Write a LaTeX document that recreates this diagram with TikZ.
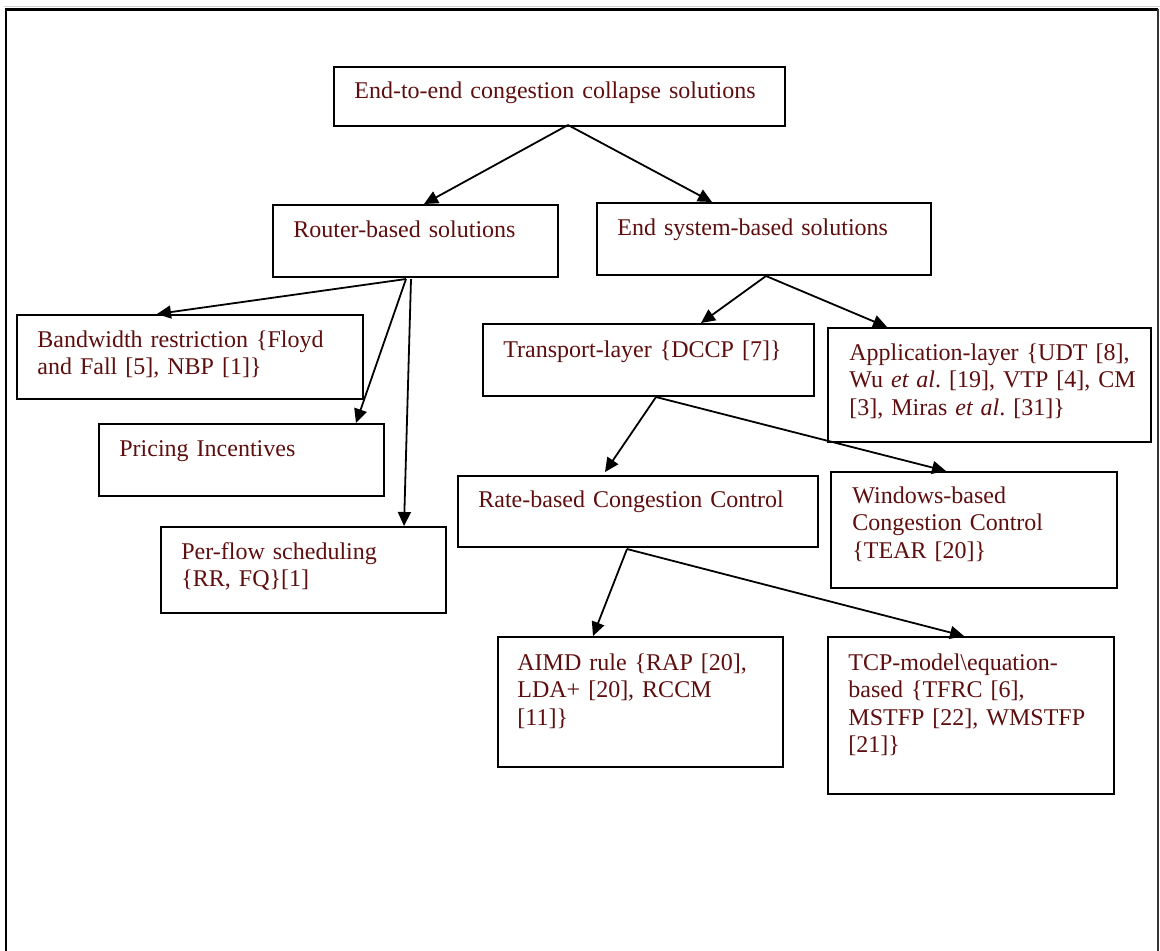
\documentclass[tikz,border=0pt]{standalone}
\usepackage{fontspec}
\setmainfont{Liberation Serif}
\usetikzlibrary{arrows.meta,calc}
\definecolor{ink}{RGB}{94,14,14}
\frenchspacing
\begin{document}
\begin{tikzpicture}[x=0.5pt,y=-0.5pt,
  box/.style={draw=black,line width=1pt,inner sep=0pt,anchor=north west},
  txt/.style={text=ink,inner sep=0pt,anchor=base west,align=left,text width=300pt,
    font=\fontsize{12}{13.8}\selectfont},
  link/.style={draw=black,line width=0.9pt,-{Triangle[length=7pt,width=6.5pt]}}]
\useasboundingbox (0,0) rectangle (1160,950);

% outer frame, open at the bottom
\draw[gray!35,line width=0.8pt] (4,6.5) -- (1160,6.5);
\draw[line width=1.1pt] (6,960) -- (6,9.5) -- (1158,9.5);
\draw[black!80,line width=0.6pt] (1158,9) -- (1158,960);

% boxes (corner, size in px units)
\newcommand{\cbox}[5]{\node[box,minimum width=#4*0.5pt,minimum height=#5*0.5pt] (#1) at (#2,#3) {};}
\cbox{top}{333}{66}{451}{59}
\cbox{router}{272}{204}{285}{72}
\cbox{endsys}{596}{202}{334}{72}
\cbox{band}{16}{314}{346}{84}
\cbox{pricing}{98}{423}{285}{72}
\cbox{perflow}{160}{526}{285}{86}
\cbox{transport}{482}{323}{331}{72}
\cbox{app}{827}{327}{323}{114}
\cbox{rate}{457}{475}{360}{71}
\cbox{windows}{830}{471}{286}{116}
\cbox{aimd}{497}{636}{285}{130}
\cbox{tcp}{827}{636}{286}{157}

% labels
\node[txt] (top-t) at (354,98) {End-to-end congestion collapse solutions};
\node[txt] (router-t) at (293,237) {Router-based solutions};
\node[txt] (endsys-t) at (617,235) {End system-based solutions};
\node[txt] (band-t) at (37,347) {Bandwidth restriction \{Floyd\\and Fall [5], NBP [1]\}};
\node[txt] (pricing-t) at (119,456) {Pricing Incentives};
\node[txt] (perflow-t) at (181,559) {Per-flow scheduling\\\{RR, FQ\}[1]};
\node[txt] (transport-t) at (503,357) {Transport-layer \{DCCP [7]\}};
\node[txt] (app-t) at (849,360) {Application-layer \{UDT [8],\\Wu \textit{et al}. [19], VTP [4], CM\\{}[3], Miras \textit{et al}. [31]\}};
\node[txt] (rate-t) at (478,507) {Rate-based Congestion Control};
\node[txt] (windows-t) at (852,503) {Windows-based\\Congestion Control\\\{TEAR [20]\}};
\node[txt] (aimd-t) at (517,670) {AIMD rule \{RAP [20],\\LDA+ [20], RCCM\\{}[11]\}};
\node[txt] (tcp-t) at (848,670) {TCP-model\textbackslash equation-\\based \{TFRC [6],\\MSTFP [22], WMSTFP\\{}[21]\}};

% connectors
\draw[link] ($(top.south west)+(235,-2)$) -- ($(router.north west)+(152,0)$);
\draw[link] ($(top.south west)+(235,-2)$) -- ($(endsys.north west)+(116,0)$);
\draw[link] ($(router.south west)+(134,1)$) -- ($(band.north west)+(141,0)$);
\draw[link] ($(router.south west)+(134,1)$) -- ($(pricing.north west)+(258,0)$);
\draw[link] ($(router.south west)+(139,1)$) -- ($(perflow.north west)+(244,0)$);
\draw[link] ($(endsys.south west)+(170,0)$) -- ($(transport.north west)+(219,0)$);
\draw[link] ($(endsys.south west)+(170,0)$) -- ($(app.north west)+(60,0)$);
\draw[link] ($(transport.south west)+(174,0)$) -- ($(rate.north west)+(148,-3)$);
\draw[link] ($(transport.south west)+(174,0)$) -- ($(windows.north west)+(116,0)$);
\draw[link] ($(rate.south west)+(170,1)$) -- ($(aimd.north west)+(96,0)$);
\draw[link] ($(rate.south west)+(170,1)$) -- ($(tcp.north west)+(137,0)$);
\end{tikzpicture}
\end{document}
